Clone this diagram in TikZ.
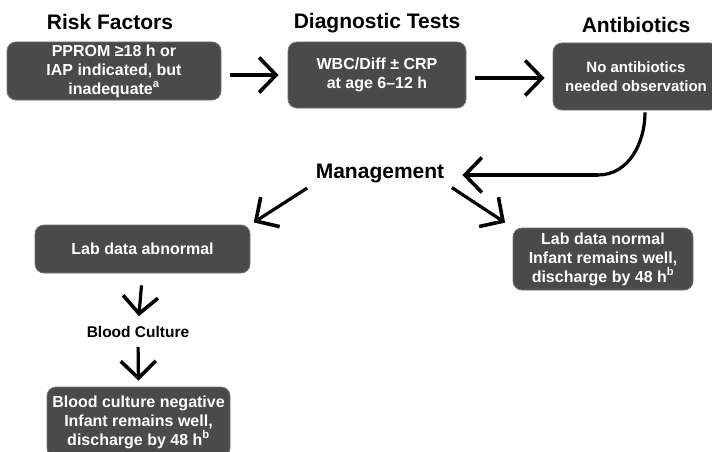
\documentclass[tikz,border=0pt]{standalone}
\usepackage{fontspec}
\setmainfont{Liberation Sans}
\usetikzlibrary{arrows.meta,calc}
\definecolor{boxgray}{HTML}{4A4A4A}
\begin{document}
\begin{tikzpicture}[x=1pt,y=-1pt,
  box/.style={draw=black!55, line width=0.8pt, fill=boxgray, rounded corners=9pt,
    text=white, font=\bfseries\fontsize{16}{19}\selectfont, align=center, inner sep=0pt},
  title/.style={font=\bfseries\fontsize{21}{24}\selectfont, inner sep=0pt},
  arr/.style={line width=3.2pt, -{Straight Barb[length=17pt,width=35pt,line width=3.6pt]}}
]
\useasboundingbox (0,0) rectangle (712,452);
\fill[white] (0,0) rectangle (712,452);
\clip (0,0) rectangle (712,452);

\node[title] (t1) at (110,22) {Risk Factors};
\node[title] (t2) at (377,23) {Diagnostic Tests};
\node[title] (t3) at (636,25) {Antibiotics};

\node[box, minimum width=214pt, minimum height=58pt] (b1) at (114,71)
  {PPROM ≥18 h or\\IAP indicated, but\\inadequate\textsuperscript{a}};
\node[box, minimum width=178pt, minimum height=66pt] (b2) at (377,75)
  {WBC/Diff ± CRP\\at age 6–12 h};
\node[box, minimum width=166pt, minimum height=67pt,
  font=\bfseries\fontsize{15}{18.5}\selectfont] (b3) at (636,76.5)
  {No antibiotics\\needed observation};

\node[title] (mg) at (380,173) {Management};

\node[box, minimum width=215pt, minimum height=48pt] (b4) at (142.5,249) {Lab data abnormal};
\node[box, minimum width=180pt, minimum height=62pt] (b5) at (603,259)
  {Lab data normal\\Infant remains well,\\discharge by 48 h\textsuperscript{b}};
\node[font=\bfseries\fontsize{15.5}{18}\selectfont, inner sep=0pt] (bc) at (138,332) {Blood Culture};
\node[box, minimum width=183pt, minimum height=70pt] (b6) at (138.5,422)
  {Blood culture negative\\Infant remains well,\\discharge by 48 h\textsuperscript{b}};

\coordinate[yshift=-4pt] (a1s) at (b1.east);
\draw[arr, shorten <=9pt, shorten >=9pt] (a1s) -- (a1s -| b2.west);
\coordinate[yshift=-3pt] (a2s) at (b2.east);
\draw[arr, shorten <=9pt, shorten >=8pt] (a2s) -- (a2s -| b3.west);

\coordinate (c0) at ($(b3.south)+(9,2)$);
\coordinate (bend) at (598,175);
\draw[line width=3.2pt] (c0) to[out=-90,in=0] (bend);
\draw[arr, shorten >=18pt] (bend) -- (bend -| mg.east);

\draw[arr, shorten <=10pt, shorten >=4pt] (mg.south west) -- (b4.north east);
\draw[arr, shorten <=9pt, shorten >=9pt] (mg.south east) -- (b5.north west);

\draw[arr, shorten <=12pt, shorten >=10pt] (b4.south) -- (bc.north);
\draw[arr, shorten <=9pt, shorten >=6pt] (bc.south) -- (b6.north);
\end{tikzpicture}
\end{document}
